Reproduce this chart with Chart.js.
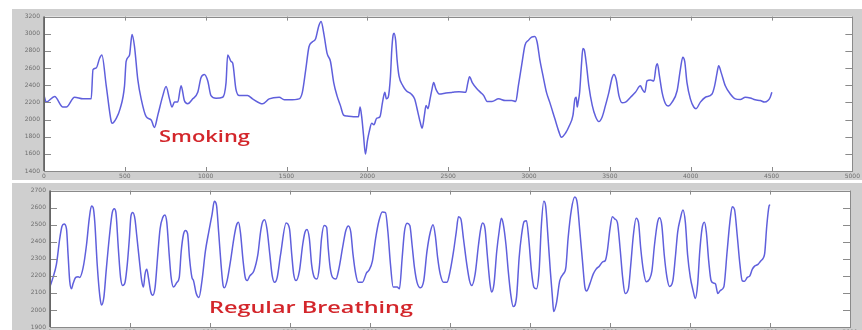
<!DOCTYPE html>
<html><head><meta charset="utf-8">
<script src="https://cdn.jsdelivr.net/npm/chart.js@4.4.1/dist/chart.umd.min.js"></script>
<style>
html,body{margin:0;padding:0;background:#fff;width:862px;height:330px;overflow:hidden;}
.panel{position:absolute;background:#cfcfcf;}
#p1{left:12px;top:9px;width:850px;height:171px;}
#p2{left:12px;top:183px;width:850px;height:160px;}
canvas{display:block;}
.lbl{position:absolute;color:#d3262b;font-family:'Open Sans',sans-serif;font-weight:600;font-size:16px;line-height:16px;white-space:nowrap;transform-origin:0 0;}
</style></head><body>
<div class="panel" id="p1"><canvas id="c1" width="850" height="171"></canvas></div>
<div class="panel" id="p2"><canvas id="c2" width="850" height="160"></canvas></div>
<div class="lbl" id="l1" style="left:159px;top:127.5px;">Smoking</div>
<div class="lbl" id="l2" style="left:209px;top:298.5px;">Regular Breathing</div>
<script>
// ---- data ----
const xTicks = [0,500,1000,1500,2000,2500,3000,3500,4000,4500,5000];
const smokingYTicks = [1400,1600,1800,2000,2200,2400,2600,2800,3000,3200];
const breathingYTicks = [1900,2000,2100,2200,2300,2400,2500,2600,2700];
const labels = ["Smoking","Regular Breathing"];

const smokingX = [0,14,66,117,138,189,241,292,303,323,
344,358,385,416,422,447,471,498,508,529,
539,545,560,580,601,632,663,683,704,735,
755,776,792,807,827,848,868,889,920,951,
971,992,1013,1033,1064,1105,1126,1136,1157,1167,
1187,1208,1259,1290,1352,1393,1455,1486,1517,1578,
1598,1619,1639,1659,1680,1700,1714,1731,1751,1772,
1792,1812,1833,1853,1874,1914,1945,1955,1965,1976,
1988,2000,2012,2027,2041,2057,2078,2094,2108,2118,
2129,2143,2151,2159,2165,2175,2184,2196,2220,2241,
2271,2292,2312,2326,2339,2353,2363,2375,2388,2400,
2410,2424,2445,2486,2526,2567,2608,2622,2632,2649,
2679,2700,2720,2741,2771,2812,2853,2894,2918,2934,
2955,2975,2996,3016,3036,3050,3067,3087,3108,3128,
3159,3184,3200,3226,3247,3272,3284,3292,3298,3304,
3313,3325,3333,3342,3354,3370,3391,3412,3432,3453,
3473,3494,3514,3525,3539,3556,3576,3597,3628,3658,
3689,3700,3716,3730,3751,3772,3786,3794,3807,3823,
3844,3860,3885,3916,3936,3951,3963,3977,3998,4019,
4033,4060,4091,4132,4148,4163,4173,4189,4214,4245,
4276,4307,4338,4368,4399,4430,4457,4478,4492,4502];
const smokingY = [2280,2203,2268,2146,2146,2260,2241,2241,2582,2601,
2715,2753,2393,1976,1957,2014,2127,2393,2677,2753,
2923,2992,2848,2469,2241,2033,1995,1908,2052,2279,
2385,2241,2146,2203,2203,2393,2222,2184,2241,2317,
2487,2525,2450,2279,2249,2260,2431,2753,2677,2658,
2355,2279,2279,2241,2184,2241,2260,2230,2230,2241,
2317,2582,2848,2904,2942,3094,3143,2999,2772,2677,
2431,2279,2165,2052,2040,2033,2033,2146,2033,1824,
1597,1748,1862,1957,1938,2014,2033,2203,2317,2241,
2260,2506,2810,2980,3007,2923,2696,2506,2393,2336,
2298,2241,2090,1976,1900,2052,2165,2127,2241,2355,
2431,2355,2298,2309,2317,2324,2317,2431,2499,2431,
2355,2317,2279,2211,2211,2241,2222,2222,2211,2393,
2639,2866,2923,2961,2969,2904,2696,2506,2317,2203,
2014,1862,1794,1843,1919,2052,2241,2260,2146,2203,
2317,2658,2829,2810,2658,2393,2165,2033,1976,2033,
2165,2317,2487,2525,2469,2279,2196,2203,2260,2317,
2393,2355,2317,2450,2461,2450,2620,2650,2506,2317,
2184,2158,2203,2336,2582,2726,2677,2431,2241,2146,
2127,2203,2260,2298,2393,2544,2628,2544,2393,2298,
2241,2234,2260,2252,2230,2222,2203,2222,2260,2317];

const breathingX = [2,19,40,61,75,88,103,113,123,134,
144,161,176,186,207,228,245,259,270,280,
295,312,322,337,351,372,389,402,412,427,
441,454,469,483,496,506,517,531,542,559,
573,584,594,605,615,630,642,657,672,688,
705,718,730,745,757,772,793,808,820,835,
847,860,872,887,897,914,931,950,971,992,
1013,1027,1040,1054,1069,1082,1090,1107,1128,1149,
1165,1178,1190,1207,1220,1232,1249,1274,1299,1316,
1328,1341,1356,1374,1389,1404,1420,1441,1476,1497,
1511,1523,1538,1559,1579,1594,1606,1621,1635,1652,
1668,1683,1697,1714,1729,1739,1751,1766,1787,1807,
1828,1849,1865,1880,1894,1911,1927,1952,1979,1994,
2015,2035,2056,2077,2097,2112,2128,2145,2170,2184,
2201,2215,2232,2249,2263,2278,2294,2315,2336,2356,
2377,2394,2408,2423,2439,2460,2481,2501,2522,2539,
2553,2568,2584,2605,2622,2636,2657,2678,2692,2704,
2719,2733,2750,2760,2775,2792,2808,2821,2833,2850,
2864,2879,2895,2916,2932,2947,2963,2978,2992,3009,
3024,3040,3057,3071,3086,3098,3113,3127,3140,3148,
3165,3186,3207,3224,3238,3259,3280,3295,3312,3328,
3343,3354,3374,3395,3412,3433,3454,3471,3483,3500,
3515,3531,3546,3563,3579,3594,3615,3630,3646,3663,
3678,3692,3709,3726,3747,3762,3778,3797,3810,3824,
3839,3856,3872,3893,3908,3923,3939,3956,3971,3985,
4002,4019,4033,4048,4061,4075,4090,4102,4117,4132,
4149,4159,4174,4190,4211,4232,4249,4264,4278,4295,
4312,4326,4341,4358,4374,4389,4404,4425,4441,4458,
4467,4480,4494,4500];
const breathingY = [2143,2191,2267,2419,2491,2504,2476,2324,2172,2124,
2153,2191,2195,2191,2248,2381,2533,2609,2599,2514,
2267,2077,2029,2077,2229,2438,2571,2594,2571,2362,
2191,2143,2162,2267,2419,2552,2571,2533,2438,2286,
2172,2134,2210,2238,2191,2105,2086,2134,2305,2476,
2543,2557,2514,2324,2191,2134,2162,2191,2343,2447,
2466,2447,2305,2191,2172,2096,2073,2172,2343,2457,
2561,2637,2618,2457,2267,2143,2130,2172,2286,2419,
2495,2514,2457,2286,2191,2172,2200,2229,2324,2457,
2514,2529,2476,2324,2200,2162,2191,2324,2510,2476,
2324,2210,2172,2229,2381,2457,2472,2419,2267,2191,
2181,2248,2419,2495,2485,2362,2248,2191,2181,2248,
2362,2466,2493,2457,2324,2210,2162,2162,2219,2233,
2286,2419,2523,2575,2571,2457,2267,2134,2134,2124,
2305,2457,2508,2495,2381,2248,2162,2130,2172,2343,
2457,2499,2438,2305,2210,2162,2162,2229,2343,2457,
2546,2533,2419,2267,2172,2143,2210,2381,2476,2510,
2476,2324,2153,2105,2153,2343,2466,2538,2504,2381,
2229,2096,2020,2077,2305,2438,2518,2523,2419,2229,
2134,2124,2229,2495,2637,2609,2419,2229,2077,1991,
2039,2172,2210,2248,2419,2590,2662,2628,2457,2286,
2134,2111,2153,2210,2238,2257,2282,2290,2343,2476,
2546,2533,2514,2362,2191,2096,2124,2267,2438,2538,
2514,2362,2229,2166,2181,2229,2381,2514,2541,2495,
2324,2191,2138,2172,2305,2457,2533,2586,2514,2324,
2191,2115,2067,2153,2343,2476,2514,2457,2286,2172,
2157,2153,2096,2115,2134,2343,2514,2605,2590,2438,
2267,2172,2168,2191,2200,2238,2257,2267,2286,2305,
2333,2495,2609,2618];

// ---- styles ----
const LINE = '#5f5fdc';
const TICK_FONT = {family:'DejaVu Sans', size:6};
const TICK_COLOR = '#6e6e6e';

const framePlugin = {
  id:'frame',
  beforeDraw(chart){
    const {ctx, chartArea:a} = chart;
    ctx.save();
    ctx.fillStyle = '#ffffff';
    ctx.fillRect(a.left, a.top, a.right - a.left, a.bottom - a.top);
    ctx.restore();
  },
  afterDraw(chart){
    const {ctx, chartArea:a, scales} = chart;
    ctx.save();
    ctx.strokeStyle = '#8a8a8a';
    ctx.lineWidth = 1;
    ctx.beginPath();
    scales.x.ticks.forEach(t => {
      const px = Math.round(scales.x.getPixelForValue(t.value)) + 0.5;
      ctx.moveTo(px, a.top); ctx.lineTo(px, a.top + 4);
      ctx.moveTo(px, a.bottom); ctx.lineTo(px, a.bottom - 4);
    });
    scales.y.ticks.forEach(t => {
      const py = Math.round(scales.y.getPixelForValue(t.value)) + 0.5;
      ctx.moveTo(a.left, py); ctx.lineTo(a.left + 7, py);
      ctx.moveTo(a.right, py); ctx.lineTo(a.right - 7, py);
    });
    ctx.stroke();
    ctx.strokeStyle = '#8a8a8a';
    ctx.strokeRect(Math.round(a.left) + 0.5, Math.round(a.top) + 0.5, Math.round(a.right - a.left), Math.round(a.bottom - a.top));
    ctx.strokeStyle = '#5a5a5a';
    ctx.lineWidth = 1.5;
    ctx.beginPath();
    ctx.moveTo(a.left, a.top); ctx.lineTo(a.left, a.bottom);
    ctx.stroke();
    ctx.restore();
  }
};

const plain = v => String(v);

function makeChart(id, xs, ys, yTicks, yWidth, xHeight, padTop, padRight){
  const pts = xs.map((x, i) => ({x: x, y: ys[i]}));
  return new Chart(document.getElementById(id), {
    type:'line',
    data:{datasets:[{data: pts, borderColor: LINE, borderWidth: 1.5, pointRadius: 0,
      cubicInterpolationMode:'monotone', fill:false}]},
    options:{
      responsive:false, animation:false, devicePixelRatio:1,
      layout:{autoPadding:false, padding:{top:padTop, right:padRight, left:0, bottom:0}},
      plugins:{legend:{display:false}, tooltip:{enabled:false}},
      scales:{
        x:{type:'linear', min:xTicks[0], max:xTicks[xTicks.length-1],
          afterBuildTicks: s => { s.ticks = xTicks.map(v => ({value:v})); },
          grid:{display:false, drawTicks:false}, border:{display:false},
          ticks:{font:TICK_FONT, color:TICK_COLOR, padding:2, maxRotation:0, autoSkip:false, callback: plain},
          afterFit: s => { s.height = xHeight; }},
        y:{type:'linear', min:yTicks[0], max:yTicks[yTicks.length-1],
          afterBuildTicks: s => { s.ticks = yTicks.map(v => ({value:v})); },
          grid:{display:false, drawTicks:false}, border:{display:false},
          ticks:{font:TICK_FONT, color:TICK_COLOR, padding:4, autoSkip:false, callback: plain},
          afterFit: s => { s.width = yWidth; }}
      }
    },
    plugins:[framePlugin]
  });
}

makeChart('c1', smokingX, smokingY, smokingYTicks, 32, 9, 3, 8);
makeChart('c2', breathingX, breathingY, breathingYTicks, 38, 16, 4, 12);

// label text, stretched horizontally as in the reference
const targets = [['l1', 91], ['l2', 204]];
targets.forEach(([id, w], i) => {
  const el = document.getElementById(id);
  el.textContent = labels[i];
  const cur = el.getBoundingClientRect().width;
  el.style.transform = 'scaleX(' + (w / cur) + ')';
});
</script>
</body></html>
